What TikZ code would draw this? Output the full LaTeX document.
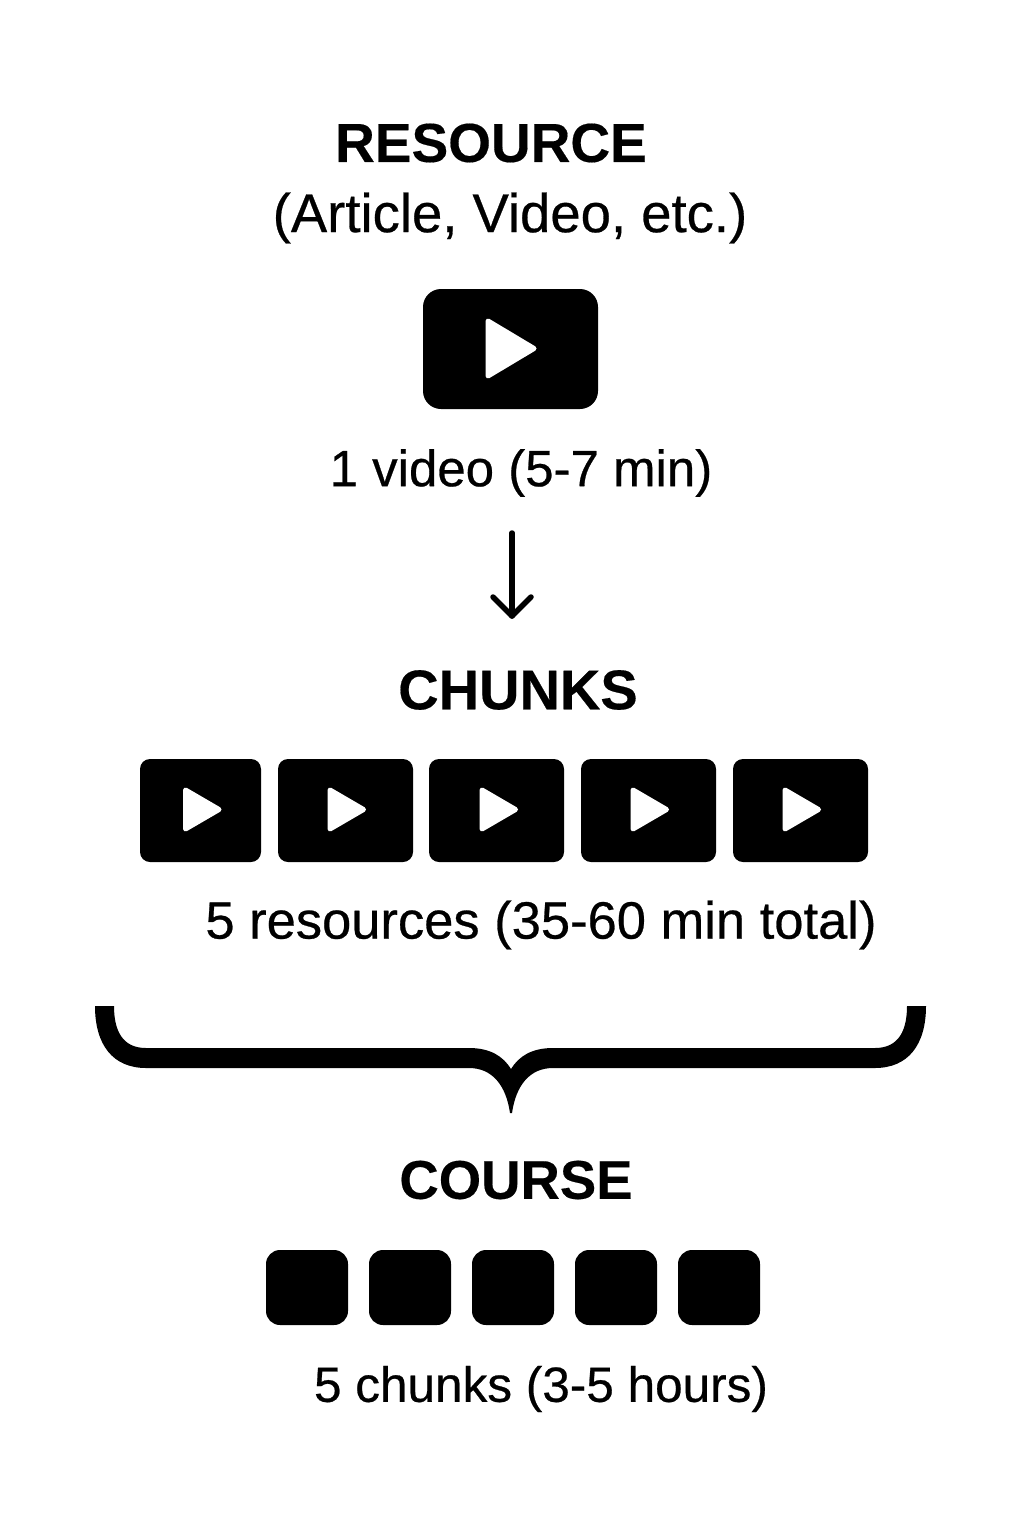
\documentclass[tikz,border=0pt]{standalone}
\usepackage{fontspec}
\setmainfont{Liberation Sans}
\newfontfamily\medfont[FakeBold=0.5]{Liberation Sans}
\newfontfamily\titlefont[Scale=1,FakeBold=0.3]{Liberation Sans Bold}
\tikzset{
 x=1pt,y=-1pt,
 title/.style={font=\fontsize{#1}{#1}\selectfont\titlefont,inner sep=0pt,anchor=center},
 label/.style={font=\fontsize{#1}{#1}\medfont\selectfont,inner sep=0pt,anchor=center},
 box/.style={fill=black,rounded corners=#1},
 box/.default=10pt,
 play/.style={fill=white,draw=white,line width=5pt,line join=round},
 arrowline/.style={line width=5.5pt,line cap=round,line join=round},
}
\begin{document}
\begin{tikzpicture}
\useasboundingbox (0,0) rectangle (1024,1536);
\node[title=55] (res) at (491,143) {RESOURCE};
\node[label=54.5] (art) at (510,218) {(Article, Video, etc.)};
\fill[box=18pt] (423,289) rectangle (598,409);
\fill[play] (488,321) -- (534,348.5) -- (488,376) -- cycle;
\node[label=51] (vid) at (521,473) {1 video (5-7 min)};
\coordinate (as) at (512,533);
\coordinate (ae) at (512,616);
\coordinate (al) at (493,597);
\coordinate (ar) at (531,597);
\draw[arrowline] (as) -- (ae);
\draw[arrowline] (al) -- (ae) -- (ar);
\node[title=56] (chu) at (518,690) {CHUNKS};
\foreach \a/\b in {140/261,278/413,429/564,581/716,733/868}{
 \fill[box] (\a,759) rectangle (\b,862);
}
\foreach \c in {185.5,330,482,633,785}{
 \fill[play] (\c,790) -- (\c+33.5,809.5) -- (\c,829) -- cycle;
}
\node[label=52.5] (fiv) at (541,925) {5 resources (35-60 min total)};
\fill (95,1006) -- (114,1006) .. controls (114,1030) and (122,1048) .. (146,1048) -- (469,1048) .. controls (490,1048) and (503,1056) .. (511,1069) .. controls (519,1056) and (532,1048) .. (553,1048) -- (875,1048) .. controls (899,1048) and (907,1030) .. (907,1006) -- (926,1006) .. controls (926,1045) and (908,1068) .. (875,1068) -- (553,1068) .. controls (530,1068) and (516,1085) .. (512,1113) -- (510,1113) .. controls (506,1085) and (492,1068) .. (469,1068) -- (146,1068) .. controls (113,1068) and (95,1045) .. (95,1006) -- cycle;
\node[title=54.5] (cou) at (516,1180) {COURSE};
\foreach \a in {266,369,472,575,678}{
 \fill[box=14pt] (\a,1250) rectangle (\a+82,1325);
}
\node[label=49.5] (chk) at (541,1389) {5 chunks (3-5 hours)};
\end{tikzpicture}
\end{document}
